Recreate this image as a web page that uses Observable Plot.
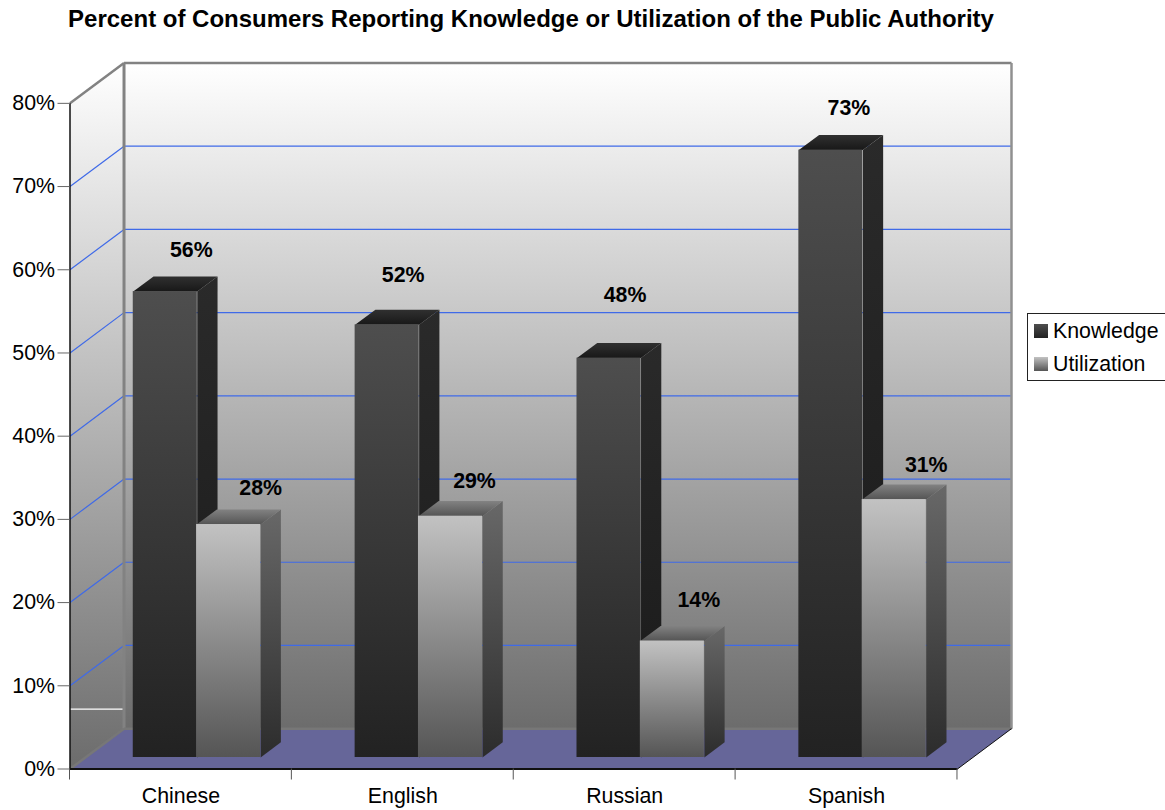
<!DOCTYPE html>
<html>
<head>
<meta charset="utf-8">
<script src="https://cdn.jsdelivr.net/npm/d3@7"></script>
<script src="https://cdn.jsdelivr.net/npm/@observablehq/plot@0.6"></script>
<style>
  html, body { margin: 0; padding: 0; background: #fff; overflow: hidden; width: 1165px; height: 810px; }
  body { position: relative; font-family: "Liberation Sans", Arial, sans-serif; color: #000; }
  #title { width: 1062px; height: 40px; line-height: 38px; text-align: center; font-weight: bold; font-size: 24px; white-space: nowrap; }
  #legend { position: absolute; left: 1027px; top: 313px; width: 170px; height: 66px; border: 1px solid #222; background: #fff; font-size: 21.33px; }
  #legend .row { position: absolute; left: 0; height: 24px; line-height: 24px; }
  #legend .swatch { position: absolute; left: 6px; top: 5px; width: 14px; height: 14px; }
  #legend .name { position: absolute; left: 25px; top: 0; white-space: nowrap; }
  svg { display: block; }
</style>
</head>
<body>
<div id="title">Percent of Consumers Reporting Knowledge or Utilization of the Public Authority</div>
<div id="chart"></div>
<div id="legend"></div>
<script>
// Survey results, percent of consumers by language group
const categories = ["Chinese", "English", "Russian", "Spanish"];
const knowledge = [56, 52, 48, 73];
const utilization = [28, 29, 14, 31];
const percentTicks = [0, 10, 20, 30, 40, 50, 60, 70, 80];
const seriesNames = ["Knowledge", "Utilization"];

// Oblique box layout: one x unit is one category, y is in percent.
const DEPTH_X = 0.2435;  // x shift from the front plane to the back wall
const DEPTH_Y = 4.85;    // y shift from the front plane to the back wall
const BAR_GAP = 0.2157;
const BAR_WIDTH = 0.2886;
const BAR_STEP = 0.2855; // neighbouring bars overlap by a hair
const BAR_FRONT = 0.285; // depth of a bar's front face
const BAR_BACK = 0.66;   // depth of a bar's back face

const at = (x, v, d = 0) => ({x: x + d * DEPTH_X, y: v + d * DEPTH_Y});

// Hand placement of the value labels relative to each bar's front top centre
const knowledgeNudge = [[26, -41.5], [16, -49.5], [16, -62.5], [18, -41.5]];
const utilizationNudge = [[32, -36.5], [24, -35.5], [26.5, -41], [32, -34.5]];

// Shaded fills
const gradients = {
  wall: ["#ffffff", "#6c6c6c"],
  kFront: ["#4e4e4e", "#222222"],
  kSide: ["#2a2a2a", "#191919"],
  kTop: ["#303030", "#181818"],
  uFront: ["#c2c2c2", "#555555"],
  uSide: ["#686868", "#2c2c2c"],
  uTop: ["#828282", "#545454"]
};

function defsMark() {
  const defs = d3.create("svg:defs");
  for (const [id, [c0, c1]] of Object.entries(gradients)) {
    const g = defs.append("linearGradient").attr("id", id)
      .attr("x1", 0).attr("y1", 0).attr("x2", 0).attr("y2", 1);
    g.append("stop").attr("offset", "0%").attr("stop-color", c0);
    g.append("stop").attr("offset", "100%").attr("stop-color", c1);
  }
  return defs.node();
}

// A filled polygon drawn through the x and y scales
const face = (points, fill) =>
  Plot.line(points, {x: "x", y: "y", fill, stroke: "none", curve: "linear-closed"});

const xMax = 4 + DEPTH_X;
const yMax = 80 + DEPTH_Y;

// Walls and floor of the box
const room = [
  face([at(0, 0, 1), at(4, 0, 1), at(4, 80, 1), at(0, 80, 1)], "url(#wall)"),
  face([at(0, 0), at(0, 0, 1), at(0, 80, 1), at(0, 80)], "url(#wall)"),
  face([at(0, 0), at(4, 0), at(4, 0, 1), at(0, 0, 1)], "#666699")
];

const edge = (a, b, stroke, strokeWidth) =>
  Plot.link([{a, b}], {x1: d => d.a.x, y1: d => d.a.y, x2: d => d.b.x, y2: d => d.b.y, stroke, strokeWidth});

// Grid lines run along the left wall and across the back wall
const gridValues = percentTicks.filter(v => v > 0 && v < 80);
const grid = gridValues.flatMap(v => [
  edge(at(0, v), at(0, v, 1), "#3f6ae8", 1.2),
  edge(at(0, v, 1), at(4, v, 1), "#3f6ae8", 1.2)
]);

const edges = [
  edge(at(0, 80, 1), at(4, 80, 1), "#828282", 2.5),
  edge(at(0, 0, 1), at(0, 80, 1), "#828282", 3),
  edge(at(4, 0, 1), at(4, 80, 1), "#909090", 2.5),
  edge(at(0, 0, 1), at(4, 0, 1), "#777777", 2.5),
  edge(at(0, 80), at(0, 80, 1), "#828282", 2.5),
  edge(at(0, 0), at(0, 0, 1), "#777777", 2.5)
];

const frontEdges = [
  edge(at(0, 0), at(0, 80), "#111111", 1.5),
  edge(at(0, 0), at(4, 0), "#111111", 2),
  edge(at(4, 0), at(4, 0, 1), "#111111", 1)
];

// A thin highlight on the left wall
const wallHighlight = edge(at(0, 7.2), at(DEPTH_X * 0.98, 7.2), "#ffffff", 1.2);

// One three-sided bar
function bar(i, slot, value, prefix) {
  const x0 = i + BAR_GAP + slot * BAR_STEP;
  const x1 = x0 + BAR_WIDTH;
  const f0 = at(x0, 0, BAR_FRONT), f1 = at(x1, 0, BAR_FRONT);
  const top = {x1: f0.x, x2: f1.x, y1: f0.y, y2: f0.y + value};
  return [
    face([at(x1, 0, BAR_FRONT), at(x1, 0, BAR_BACK), at(x1, value, BAR_BACK), at(x1, value, BAR_FRONT)], `url(#${prefix}Side)`),
    face([at(x0, value, BAR_FRONT), at(x1, value, BAR_FRONT), at(x1, value, BAR_BACK), at(x0, value, BAR_BACK)], `url(#${prefix}Top)`),
    Plot.rect([top], {x1: "x1", x2: "x2", y1: "y1", y2: "y2", fill: `url(#${prefix}Front)`})
  ];
}

const bars = categories.flatMap((c, i) => [
  ...bar(i, 0, knowledge[i], "k"),
  ...bar(i, 1, utilization[i], "u")
]);

// Value labels
function valueLabel(i, slot, value, [dx, dy]) {
  const x = i + BAR_GAP + slot * BAR_STEP + 0.5 * BAR_WIDTH;
  const p = at(x, value, BAR_FRONT);
  return Plot.text([{x: p.x, y: p.y, label: `${value}%`}], {
    x: "x", y: "y", text: "label", dx, dy,
    fontSize: 21.33, fontWeight: "bold", fill: "#000"
  });
}
const labels = categories.flatMap((c, i) => [
  valueLabel(i, 0, knowledge[i], knowledgeNudge[i]),
  valueLabel(i, 1, utilization[i], utilizationNudge[i])
]);

const chart = Plot.plot({
  width: 1165,
  height: 770,
  marginLeft: 69.5,
  marginRight: 154,
  marginTop: 22.5,
  marginBottom: 41.5,
  style: {fontFamily: "'Liberation Sans', Arial, sans-serif", background: "transparent", overflow: "visible"},
  x: {domain: [0, xMax], axis: null},
  y: {domain: [0, yMax], axis: null},
  marks: [
    defsMark,
    ...room,
    ...grid,
    wallHighlight,
    ...edges,
    ...bars,
    ...frontEdges,
    Plot.axisY({
      ticks: percentTicks, tickFormat: d => `${d}%`, label: null,
      tickSize: 12, tickPadding: 3, fontSize: 21.33, stroke: "#666", color: "#000"
    }),
    Plot.axisX({
      ticks: d3.range(categories.length + 1), tickFormat: () => "", label: null,
      tickSize: 11, stroke: "#555", dx: -0.5
    }),
    Plot.axisX({
      ticks: categories.map((c, i) => i + 0.5), tickFormat: d => categories[Math.floor(d)],
      label: null, tickSize: 0, tickPadding: 19, fontSize: 21.33, color: "#000"
    }),
    ...labels
  ]
});
document.getElementById("chart").appendChild(chart);

// Legend keyed to the two bar series
const legend = d3.select("#legend");
const swatchFills = [
  `linear-gradient(${gradients.kFront[0]}, ${gradients.kFront[1]})`,
  `linear-gradient(${gradients.uFront[0]}, ${gradients.uFront[1]})`
];
seriesNames.forEach((name, i) => {
  const row = legend.append("div").attr("class", "row").style("top", `${5 + i * 33}px`);
  row.append("div").attr("class", "swatch").style("background", swatchFills[i]);
  row.append("div").attr("class", "name").text(name);
});
</script>
</body>
</html>
